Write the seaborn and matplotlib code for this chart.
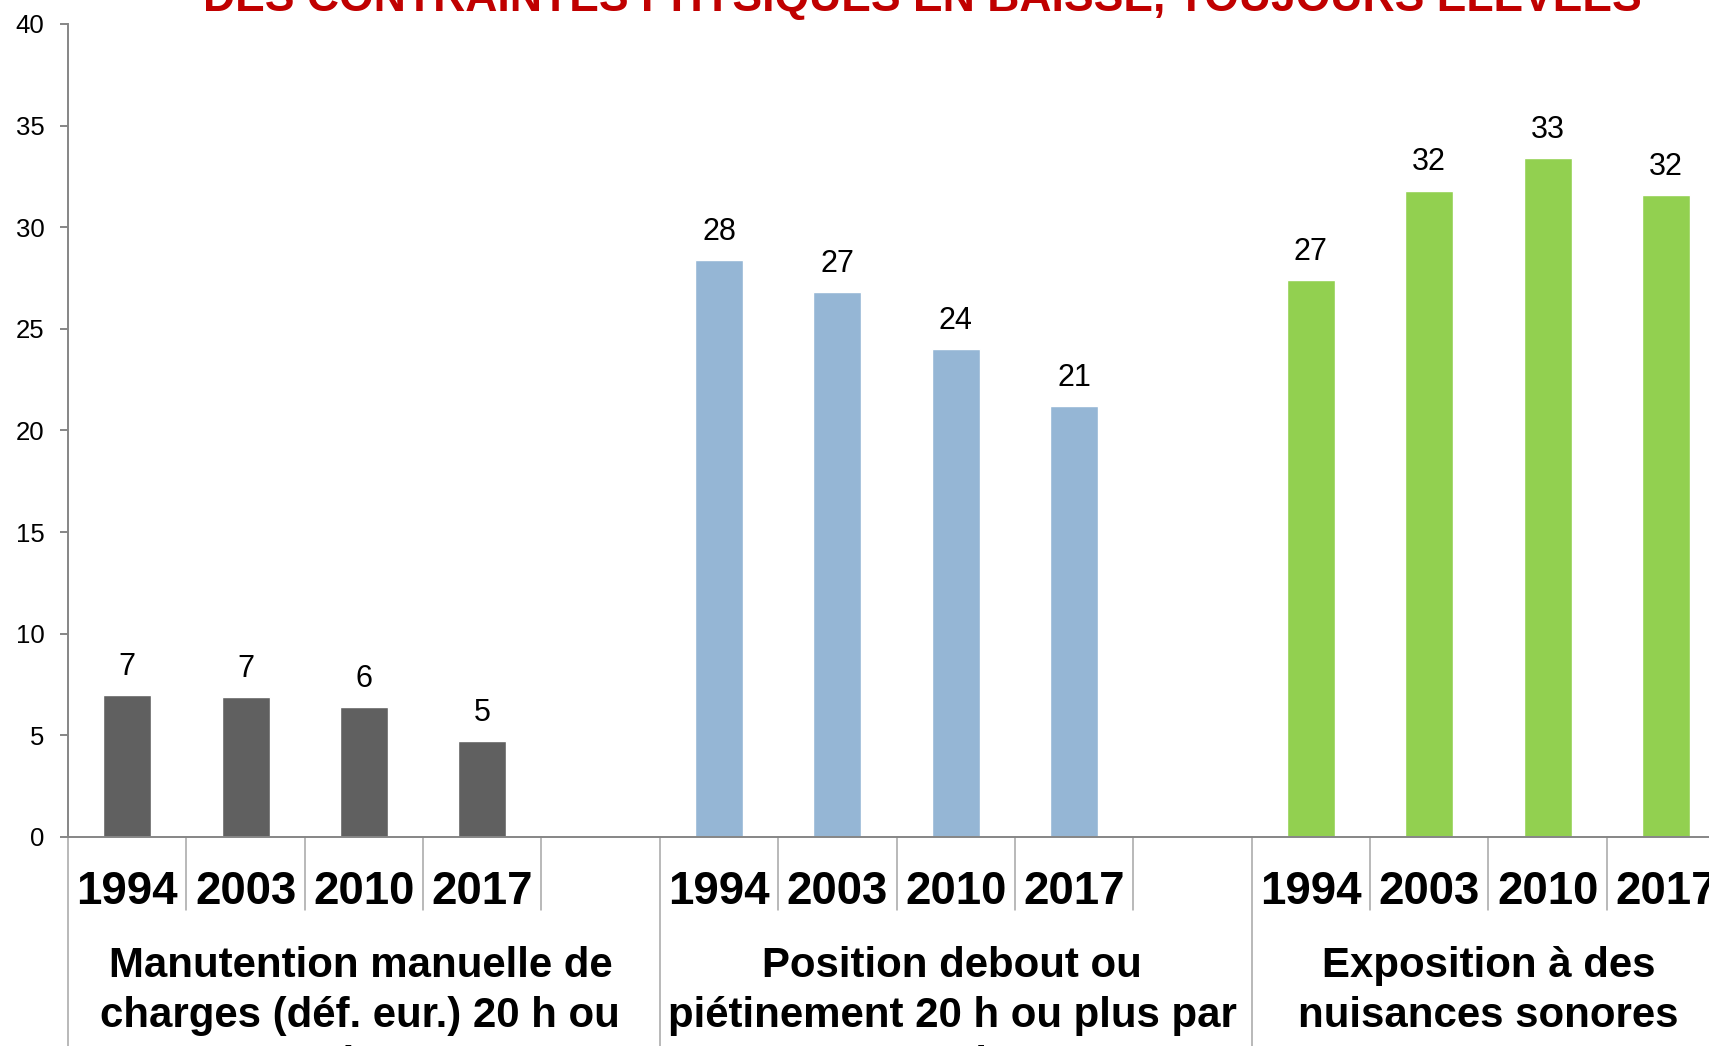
import matplotlib
matplotlib.use('Agg')
import matplotlib.pyplot as plt
import matplotlib.transforms as mtransforms
import pandas as pd
import seaborn as sns

# --- données ---
annees = ['1994', '2003', '2010', '2017']
groupes = ['Manutention', 'Position debout', 'Nuisances sonores']
libelles_groupes = [
    ['Manutention manuelle de', 'charges (déf. eur.) 20 h ou', 'plus'],
    ['Position debout ou', 'piétinement 20 h ou plus par', 'semaine'],
    ['Exposition à des', 'nuisances sonores'],
]
manutention = [7.0, 6.9, 6.4, 4.7]
debout = [28.4, 26.8, 24.0, 21.2]
bruit = [27.4, 31.8, 33.4, 31.6]
couleurs = ['#606060', '#95B6D5', '#92D050']
titre = 'DES CONTRAINTES PHYSIQUES EN BAISSE, TOUJOURS ÉLEVÉES'

# table longue + ordre des catégories (une case vide après chaque groupe)
lignes = []
ordre = []
for g, vals in zip(groupes, [manutention, debout, bruit]):
    for a, v in zip(annees, vals):
        lignes.append({'cle': g + '|' + a, 'groupe': g, 'annee': a, 'valeur': v})
        ordre.append(g + '|' + a)
    ordre.append(g + '|')
df = pd.DataFrame(lignes)

sns.set_style('white')
plt.rcParams['font.family'] = ['Liberation Sans', 'DejaVu Sans']
plt.rcParams['text.color'] = 'black'
plt.rcParams['ytick.color'] = 'black'

fig = plt.figure(figsize=(17.09, 10.46), dpi=100)
ax = fig.add_axes([68 / 1709, 1 - 837 / 1046, 1 - 68 / 1709, 813 / 1046])

sns.barplot(data=df, x='cle', y='valeur', hue='groupe', order=ordre,
            hue_order=groupes, palette=couleurs, saturation=1, dodge=False,
            width=0.405, legend=False, ax=ax, errorbar=None)

for cont in ax.containers:
    ax.bar_label(cont, fmt='%.0f', padding=9.5, fontsize=22, color='black')

pas = 118.37  # largeur d'une case en pixels
ax.set_xlim(-0.5, -0.5 + (1709 - 68) / pas)
ax.set_ylim(0, 40)
ax.set_yticks(range(0, 41, 5))
ax.set_xlabel('')
ax.set_ylabel('')
ax.set_xticks([])

for s in ['top', 'right']:
    ax.spines[s].set_visible(False)
for s in ['left', 'bottom']:
    ax.spines[s].set_color('#868686')
    ax.spines[s].set_linewidth(1.4)
ax.tick_params(axis='y', length=6, width=1.4, color='#868686',
               labelsize=18.5, labelcolor='black', pad=11, left=True)

trans = mtransforms.blended_transform_factory(ax.transData, ax.transAxes)
rendu = fig.canvas.get_renderer()

# étiquettes des années (police Arial Narrow dans l'original : on réduit la taille)
textes_annees = []
for i, cle in enumerate(ordre):
    annee = cle.split('|')[1]
    if annee:
        t = ax.text(i, -0.068, annee, transform=trans, ha='center', va='center',
                    fontsize=33, fontweight='bold')
        textes_annees.append(t)
larg = max(t.get_window_extent(rendu).width for t in textes_annees)
for t in textes_annees:
    t.set_fontsize(33 * 102 / larg)

# séparateurs
n = len(ordre)
for k in range(n):
    x = k - 0.5
    bas = -0.4 if k % 5 == 0 else -0.0898
    ax.plot([x, x], [0, bas], transform=trans, clip_on=False,
            color='#A6A6A6', lw=1.1)

# libellés des groupes
xmax = ax.get_xlim()[1]
textes_groupes = []
for j, lignes_txt in enumerate(libelles_groupes):
    debut = j * 5 - 0.5
    xc = debut + 2.47 if debut + 5 <= xmax else debut + 2.0
    for m, txt in enumerate(lignes_txt):
        t = ax.text(xc, -0.159 - m * 0.0609, txt, transform=trans, ha='center',
                    va='center', fontsize=30, fontweight='bold')
        textes_groupes.append(t)
larg = max(t.get_window_extent(rendu).width for t in textes_groupes)
for t in textes_groupes:
    t.set_fontsize(30 * 570 / larg)

fig.text(922.6 / 1709, 1 - 11 / 1046, titre, ha='center', va='baseline',
         color='#C00000', fontsize=32, fontweight='bold')

fig.savefig('out.png', dpi=100)
